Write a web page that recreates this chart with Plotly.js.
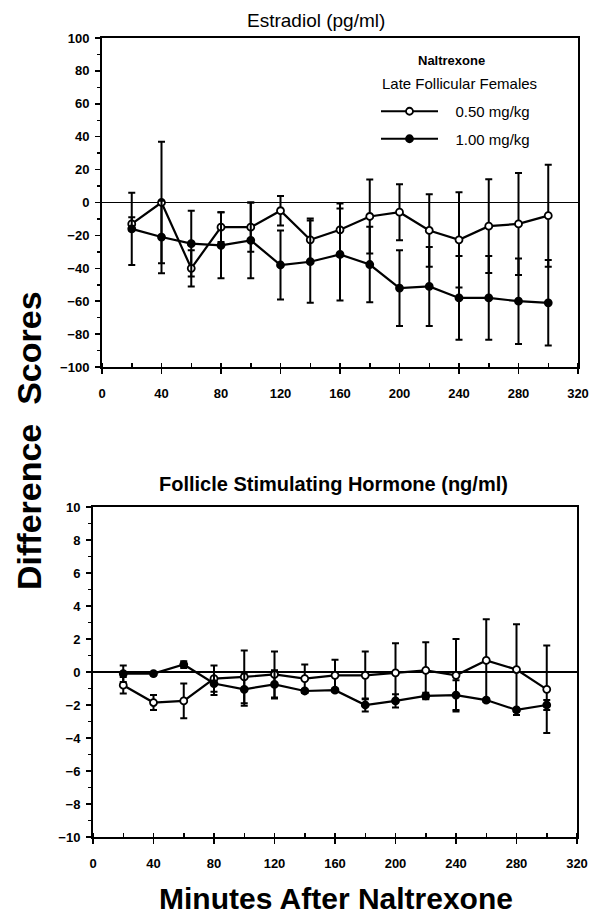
<!DOCTYPE html>
<html>
<head>
<meta charset="utf-8">
<script src="https://cdn.plot.ly/plotly-3.0.1.min.js"></script>
<style>html,body{margin:0;padding:0;background:#fff;}#chart{width:596px;height:916px;}</style>
</head>
<body>
<div id="chart"></div>
<script>
// ---- data ----
const minutes = [20, 40, 60, 80, 100, 120, 140, 160, 180, 200, 220, 240, 260, 280, 300];
const seriesNames = ['0.50 mg/kg', '1.00 mg/kg'];

// Estradiol (pg/ml) difference scores
const e2Low = [-13, 0, -40, -15, -15, -5, -22.7, -16.6, -8.5, -5.9, -17, -22.7, -14.4, -13, -8];
const e2LowErr = [4, 37, 11, 9, 15, 9, 13, 16, 22.5, 17, 22, 29, 28.5, 31, 31];
const e2High = [-16, -21, -25, -26, -23, -38, -36, -31.6, -37.7, -52, -51, -58, -58, -60, -61];
const e2HighErr = [22, 22, 20, 20, 23, 21, 25, 28, 23, 23, 24, 25.5, 25.5, 26, 26];

// FSH (ng/ml) difference scores
const fshLow = [-0.8, -1.85, -1.75, -0.4, -0.3, -0.15, -0.4, -0.2, -0.2, -0.05, 0.1, -0.2, 0.7, 0.15, -1.05];
const fshLowErr = [0.5, 0.45, 1.05, 0.8, 1.6, 1.4, 0.85, 0.95, 1.45, 1.8, 1.7, 2.2, 2.5, 2.75, 2.65];
const fshHigh = [-0.1, -0.1, 0.45, -0.7, -1.05, -0.75, -1.15, -1.1, -2.0, -1.75, -1.45, -1.4, -1.7, -2.3, -2.0];
const fshHighErr = [0.5, 0.1, 0.2, 0.7, 1.0, 0.85, 0.1, 0.1, 0.4, 0.4, 0.2, 0.9, 0.1, 0.1, 0.3];

const xTickVals = [0, 40, 80, 120, 160, 200, 240, 280, 320];
const e2TickVals = [-100, -80, -60, -40, -20, 0, 20, 40, 60, 80, 100];
const fshTickVals = [-10, -8, -6, -4, -2, 0, 2, 4, 6, 8, 10];

// ---- helpers ----
const W = 596, H = 916;
const px = v => v / W;
const py = v => 1 - v / H;
const FONT = 'Liberation Sans, Arial, Helvetica, sans-serif';
const PAD = '\u00a0\u00a0\u00a0';

function series(y, err, open, xa, ya, name, show, group) {
  return {
    x: minutes, y: y, xaxis: xa, yaxis: ya, name: PAD + name, showlegend: show, legendgroup: group,
    type: 'scatter', mode: 'lines+markers',
    line: {color: '#000', width: 2.2},
    marker: {symbol: 'circle', size: 7, color: open ? '#fff' : '#000', line: {color: '#000', width: 1.8}},
    error_y: {type: 'data', array: err, visible: true, color: '#000', thickness: 2, width: 3.5}
  };
}

const data = [
  series(e2Low, e2LowErr, true, 'x', 'y', seriesNames[0], true, 'a'),
  series(e2High, e2HighErr, false, 'x', 'y', seriesNames[1], true, 'b'),
  series(fshLow, fshLowErr, true, 'x2', 'y2', seriesNames[0], false, 'a'),
  series(fshHigh, fshHighErr, false, 'x2', 'y2', seriesNames[1], false, 'b')
];

function xAxis(domain, anchor) {
  return {
    domain: domain, anchor: anchor, range: [0, 320], tickmode: 'array', tickvals: xTickVals,
    ticks: 'outside', ticklen: 5, tickwidth: 1.5, tickcolor: '#000',
    minor: {dtick: 20, tick0: 0, ticks: 'inside', ticklen: 4, tickwidth: 1.5, tickcolor: '#000'},
    showline: true, linecolor: '#000', linewidth: 2, mirror: true, showgrid: false, zeroline: false,
    tickfont: {family: FONT, size: 13, color: '#000', weight: 'bold'}, ticklabelstandoff: 8, fixedrange: true
  };
}
function yAxis(domain, anchor, range, vals, minorStep) {
  return {
    domain: domain, anchor: anchor, range: range, tickmode: 'array', tickvals: vals,
    ticks: 'outside', ticklen: 5, tickwidth: 1.5, tickcolor: '#000',
    minor: {dtick: minorStep, tick0: 0, ticks: 'outside', ticklen: 3, tickwidth: 1.5, tickcolor: '#000'},
    showline: true, linecolor: '#000', linewidth: 2, mirror: true, showgrid: false,
    zeroline: true, zerolinecolor: '#000', zerolinewidth: 1.6,
    tickfont: {family: FONT, size: 13, color: '#000', weight: 'bold'}, ticklabelstandoff: 3, fixedrange: true
  };
}

function note(text, x, y, size, bold, extra) {
  return Object.assign({
    text: text, x: px(x), y: py(y), xref: 'paper', yref: 'paper', showarrow: false,
    xanchor: 'center', yanchor: 'middle',
    font: {family: FONT, size: size, color: '#000', weight: bold ? 'bold' : 'normal'}
  }, extra || {});
}

const layout = {
  width: W, height: H, margin: {l: 0, r: 0, t: 0, b: 0}, paper_bgcolor: '#fff', plot_bgcolor: '#fff',
  font: {family: FONT, color: '#000'},
  xaxis: xAxis([px(102), px(578)], 'y'),
  yaxis: yAxis([py(367), py(38)], 'x', [-100, 100], e2TickVals, 10),
  xaxis2: xAxis([px(93), px(577)], 'y2'),
  yaxis2: yAxis([py(837), py(507)], 'x2', [-10, 10], fshTickVals, 1),
  showlegend: true,
  legend: {
    x: px(376), y: py(95), xanchor: 'left', yanchor: 'top', bgcolor: 'rgba(0,0,0,0)',
    font: {family: FONT, size: 15, color: '#000'}, itemwidth: 57, traceorder: 'grouped', tracegroupgap: 5
  },
  annotations: [
    note('Estradiol (pg/ml)', 316, 20, 19, false),
    note('Follicle Stimulating Hormone (ng/ml)', 333, 484, 20, true),
    note('Minutes After Naltrexone', 336, 898, 30, true),
    note('Difference\u00a0\u00a0Scores', 29, 441, 34, true, {textangle: -90}),
    note('Naltrexone', 451, 60, 13, true),
    note('Late Follicular Females', 459, 83, 15, false)
  ]
};

Plotly.newPlot('chart', data, layout, {staticPlot: true, displayModeBar: false});
</script>
</body>
</html>
